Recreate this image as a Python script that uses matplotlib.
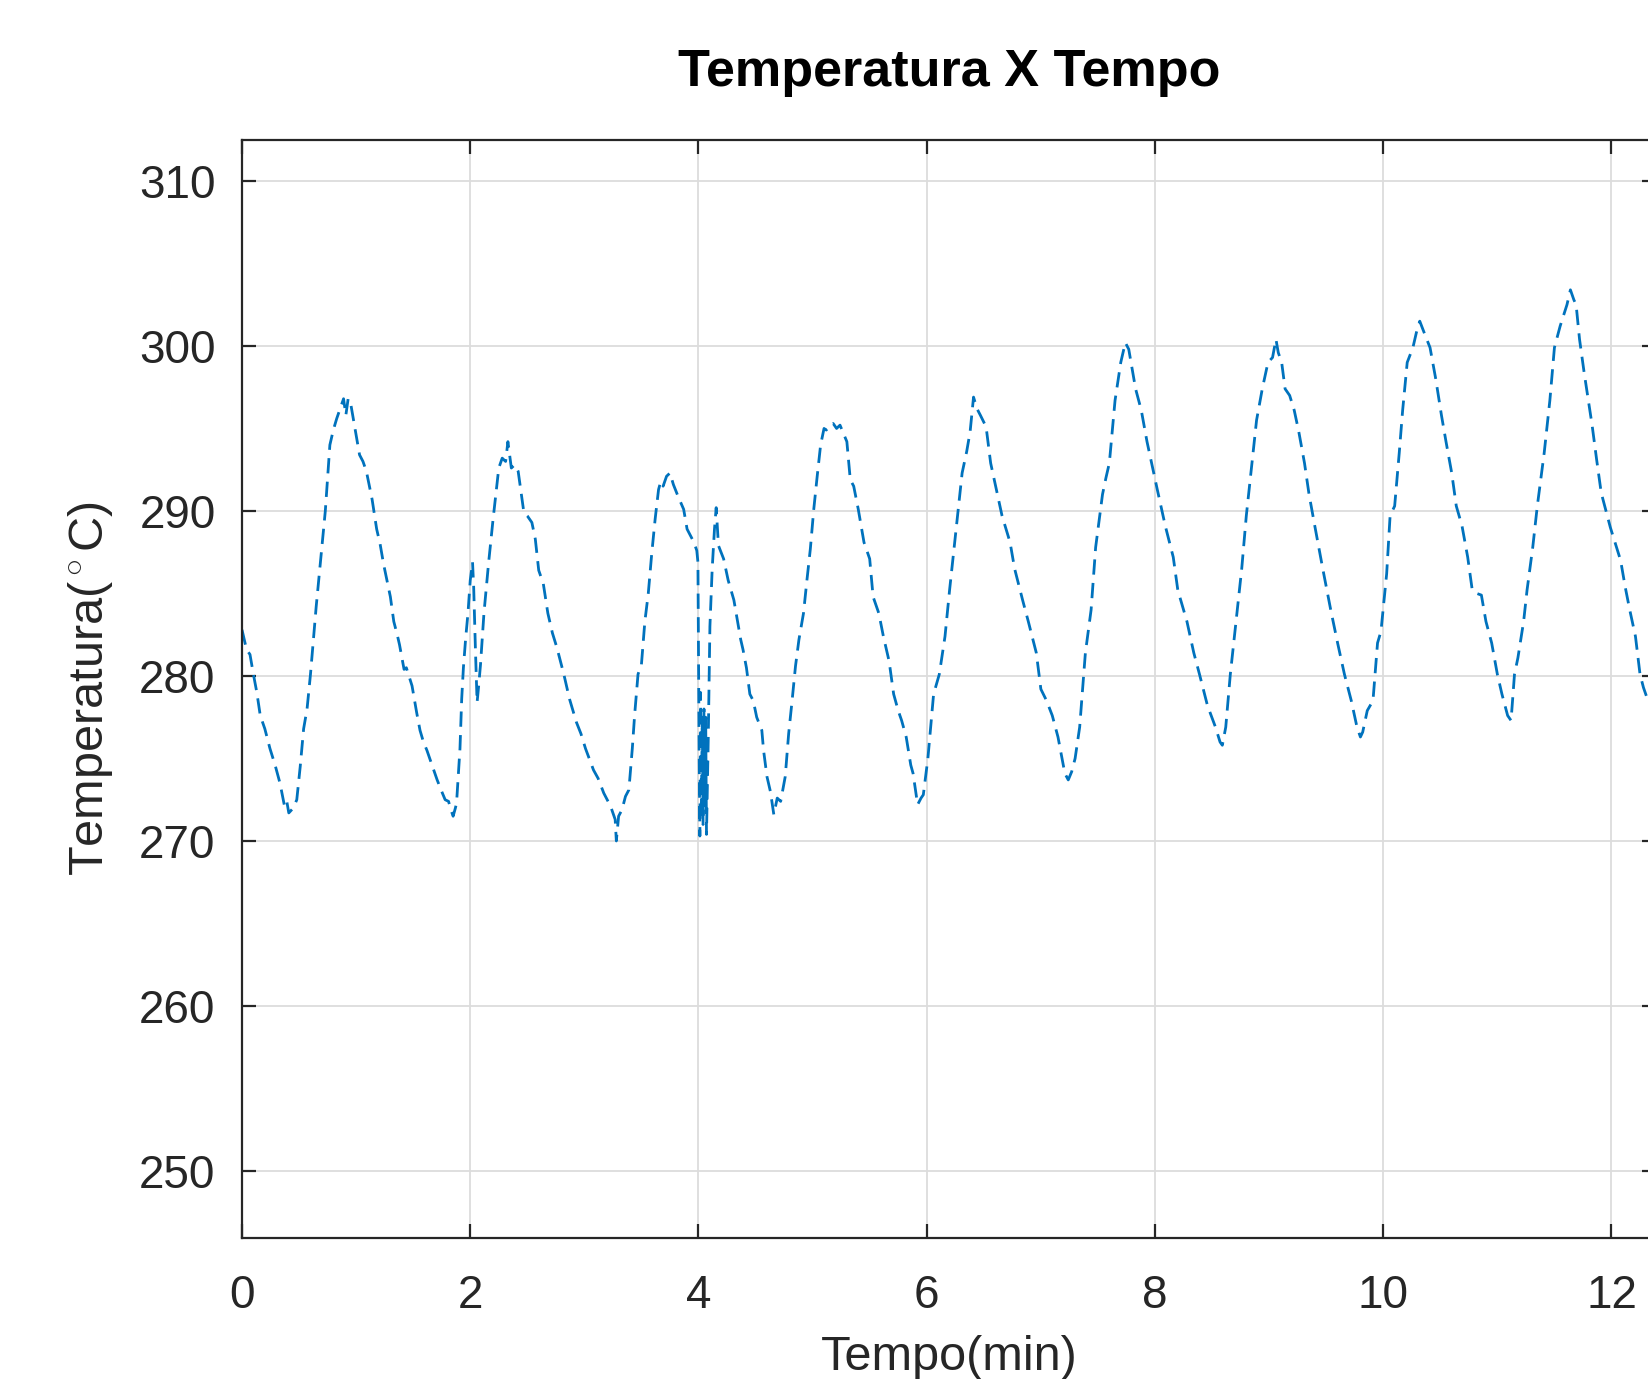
import matplotlib
matplotlib.use("Agg")
import matplotlib.pyplot as plt

# ---- data ----
tempo_min = [
    0.00, 0.04, 0.07, 0.10, 0.13, 0.16, 0.20, 0.245, 0.29, 0.333, 0.37, 0.39, 0.41, 0.45, 0.48,
    0.51, 0.54, 0.57, 0.60, 0.65, 0.70, 0.73, 0.77, 0.80, 0.83, 0.86, 0.89, 0.91, 0.93, 0.95,
    0.98, 1.03, 1.06, 1.09, 1.14, 1.18, 1.21, 1.24, 1.30, 1.33, 1.36, 1.38, 1.42, 1.44, 1.49,
    1.53, 1.56, 1.59, 1.62, 1.65, 1.68, 1.71, 1.75, 1.78, 1.81, 1.83, 1.85, 1.87, 1.88, 1.91,
    1.925, 1.94, 1.96, 1.98, 2.00, 2.02, 2.03, 2.045, 2.06, 2.075, 2.09, 2.12, 2.16, 2.20, 2.25,
    2.28, 2.31, 2.33, 2.36, 2.39, 2.42, 2.47, 2.50, 2.54, 2.57, 2.60, 2.64, 2.68, 2.72, 2.76,
    2.82, 2.87, 2.93, 2.97, 3.01, 3.08, 3.12, 3.17, 3.23, 3.27, 3.28, 3.30, 3.33, 3.36, 3.39,
    3.42, 3.44, 3.47, 3.50, 3.53, 3.56, 3.59, 3.62, 3.65, 3.67, 3.69, 3.72, 3.75, 3.78, 3.82,
    3.87, 3.90, 3.93, 3.96, 3.985, 3.995, 4.005, 4.012, 4.018, 4.025, 4.033, 4.04, 4.048, 4.055, 4.063,
    4.07, 4.085, 4.10, 4.12, 4.14, 4.155, 4.175, 4.22, 4.26, 4.31, 4.34, 4.37, 4.39, 4.42, 4.45,
    4.48, 4.51, 4.555, 4.57, 4.60, 4.63, 4.66, 4.69, 4.72, 4.76, 4.79, 4.82, 4.85, 4.88, 4.92,
    4.95, 4.98, 5.01, 5.04, 5.07, 5.10, 5.12, 5.15, 5.18, 5.21, 5.24, 5.30, 5.33, 5.36, 5.40,
    5.45, 5.50, 5.53, 5.58, 5.62, 5.67, 5.71, 5.75, 5.78, 5.82, 5.86, 5.88, 5.92, 5.95, 5.97,
    6.01, 6.06, 6.11, 6.16, 6.20, 6.27, 6.31, 6.35, 6.38, 6.41, 6.44, 6.47, 6.52, 6.56, 6.61,
    6.66, 6.73, 6.77, 6.84, 6.89, 6.96, 7.00, 7.05, 7.10, 7.15, 7.21, 7.24, 7.27, 7.30, 7.34,
    7.39, 7.44, 7.48, 7.54, 7.57, 7.60, 7.65, 7.70, 7.74, 7.77, 7.79, 7.83, 7.88, 7.93, 7.97,
    8.02, 8.09, 8.16, 8.20, 8.28, 8.34, 8.39, 8.46, 8.53, 8.57, 8.59, 8.62, 8.66, 8.71, 8.76,
    8.80, 8.85, 8.89, 8.94, 8.99, 9.03, 9.06, 9.08, 9.11, 9.14, 9.18, 9.22, 9.26, 9.31, 9.35,
    9.40, 9.47, 9.54, 9.60, 9.66, 9.72, 9.77, 9.80, 9.82, 9.86, 9.91, 9.95, 9.98, 10.03, 10.06,
    10.10, 10.14, 10.17, 10.21, 10.26, 10.29, 10.32, 10.37, 10.41, 10.46, 10.51, 10.55, 10.60, 10.64, 10.69,
    10.74, 10.78, 10.82, 10.86, 10.90, 10.95, 11.00, 11.04, 11.09, 11.12, 11.15, 11.18, 11.23, 11.26, 11.31,
    11.35, 11.41, 11.46, 11.50, 11.55, 11.61, 11.64, 11.67, 11.69, 11.72, 11.76, 11.83, 11.87, 11.91, 11.99,
    12.08, 12.12, 12.16, 12.21, 12.25, 12.28, 12.33, 12.39,
]
temperatura_c = [
    282.8, 281.6, 281.3, 280.1, 279.0, 277.6, 276.8, 275.6, 274.6, 273.5, 272.2, 272.5, 271.7, 272.0, 272.5,
    274.5, 276.8, 278.0, 280.1, 284.2, 287.8, 290.0, 294.0, 294.9, 295.6, 296.2, 296.8, 295.8, 296.8, 296.6,
    295.4, 293.4, 293.0, 292.4, 290.7, 288.9, 288.0, 286.8, 284.8, 283.3, 282.5, 281.9, 280.4, 280.5, 279.4,
    277.8, 276.7, 276.0, 275.5, 274.9, 274.3, 273.7, 273.0, 272.5, 272.4, 271.9, 271.5, 272.0, 272.3, 275.6,
    278.6, 280.5, 282.3, 283.8, 285.8, 286.9, 285.4, 281.7, 278.4, 279.5, 280.7, 283.8, 286.8, 289.5, 292.6,
    293.2, 293.0, 294.2, 292.6, 292.8, 292.4, 289.9, 289.7, 289.3, 288.3, 286.4, 285.6, 283.8, 282.6, 281.7,
    280.1, 278.6, 277.2, 276.5, 275.6, 274.3, 273.8, 272.9, 272.1, 271.3, 270.0, 271.5, 271.9, 272.7, 273.1,
    275.6, 277.6, 280.1, 280.7, 283.3, 285.0, 287.4, 289.5, 291.3, 291.8, 291.5, 292.1, 292.3, 291.6, 290.9,
    290.1, 288.9, 288.5, 288.1, 287.6, 286.9, 276.0, 270.3, 279.0, 272.0, 277.5, 271.0, 278.0, 272.0, 277.5,
    270.4, 276.0, 283.0, 286.5, 288.9, 290.2, 287.9, 287.1, 285.8, 284.6, 283.4, 282.2, 281.6, 280.5, 278.9,
    278.5, 277.5, 276.7, 275.5, 273.9, 273.0, 271.6, 272.6, 272.4, 273.9, 276.5, 278.5, 280.6, 282.2, 283.8,
    285.8, 287.7, 290.1, 292.1, 294.0, 295.0, 294.9, 295.2, 295.3, 295.0, 295.2, 294.2, 291.9, 291.5, 290.1,
    288.1, 287.1, 284.8, 283.8, 282.4, 280.9, 278.9, 277.9, 277.3, 276.3, 274.6, 274.1, 272.2, 272.6, 272.8,
    275.0, 278.9, 280.1, 282.4, 285.2, 289.7, 292.3, 293.6, 294.8, 296.9, 296.2, 295.8, 295.1, 292.9, 291.3,
    289.7, 288.1, 286.5, 284.6, 283.3, 281.4, 279.2, 278.5, 277.6, 276.3, 274.1, 273.7, 274.2, 275.0, 276.9,
    281.4, 284.0, 287.8, 291.0, 292.0, 292.9, 296.7, 299.0, 300.2, 299.8, 299.0, 297.4, 296.1, 294.2, 292.9,
    291.3, 289.1, 287.2, 285.2, 283.3, 281.4, 280.1, 278.2, 276.9, 276.0, 275.8, 276.9, 280.1, 283.3, 286.5,
    289.7, 292.9, 295.5, 297.4, 299.0, 299.3, 300.4, 299.6, 299.0, 297.4, 297.0, 296.1, 294.8, 292.9, 291.0,
    289.1, 286.5, 284.0, 282.0, 280.1, 278.5, 276.9, 276.3, 276.6, 277.9, 278.5, 282.0, 282.7, 286.2, 289.7,
    290.3, 293.5, 296.1, 299.0, 299.9, 300.8, 301.5, 300.6, 299.9, 298.0, 295.8, 294.2, 292.3, 290.3, 289.1,
    287.2, 285.2, 285.0, 284.9, 283.3, 282.0, 280.1, 278.9, 277.6, 277.3, 280.1, 281.1, 283.3, 285.2, 287.8,
    290.3, 293.5, 296.7, 299.9, 301.2, 302.5, 303.4, 302.8, 302.5, 300.4, 298.4, 295.2, 293.1, 291.1, 289.0,
    287.0, 285.4, 284.0, 282.4, 280.1, 279.3, 278.3, 277.5,
]
x_ticks = [0, 2, 4, 6, 8, 10, 12]
y_ticks = [250, 260, 270, 280, 290, 300, 310]
title_text = "Temperatura X Tempo"
x_label = "Tempo(min)"
y_label = r"Temperatura($^\circ$C)"

# ---- style ----
plt.rcParams["font.family"] = ["Liberation Sans", "DejaVu Sans"]
plt.rcParams["mathtext.fontset"] = "custom"
plt.rcParams["mathtext.rm"] = "Liberation Sans"
plt.rcParams["mathtext.it"] = "Liberation Sans:italic"
plt.rcParams["lines.scale_dashes"] = False

W, H, DPI = 1649, 1379, 100
fig = plt.figure(figsize=(W / DPI, H / DPI), dpi=DPI)
fig.patch.set_facecolor("white")

ax_l, ax_r, ax_t, ax_b = 242, 1656, 140, 1238
ax = fig.add_axes([ax_l / W, 1 - ax_b / H, (ax_r - ax_l) / W, (ax_b - ax_t) / H])

axis_col = "#262626"
ax.plot(tempo_min, temperatura_c, color="#0072BD", lw=2.0,
        linestyle=(0, (11.0, 6.0)))

ax.set_xlim(0, 12.39)
ax.set_ylim(245.94, 312.48)
ax.set_xticks(x_ticks)
ax.set_yticks(y_ticks)
ax.grid(True, color="#dcdcdc", linewidth=1.3)
ax.set_axisbelow(True)

for s in ax.spines.values():
    s.set_color(axis_col)
    s.set_linewidth(1.6)

ax.tick_params(axis="both", which="major", direction="in", length=10, width=1.6,
               color=axis_col, labelcolor=axis_col, labelsize=33,
               top=True, right=True)
ax.tick_params(axis="x", pad=26)
ax.tick_params(axis="y", pad=19)

ax.set_xlabel(x_label, fontsize=35, color=axis_col, labelpad=12)
ax.set_ylabel(y_label, fontsize=35, color=axis_col, labelpad=17)
ax.set_title(title_text, fontsize=37.5, fontweight="bold", color="black", pad=39)

fig.savefig("out.png", dpi=DPI)
